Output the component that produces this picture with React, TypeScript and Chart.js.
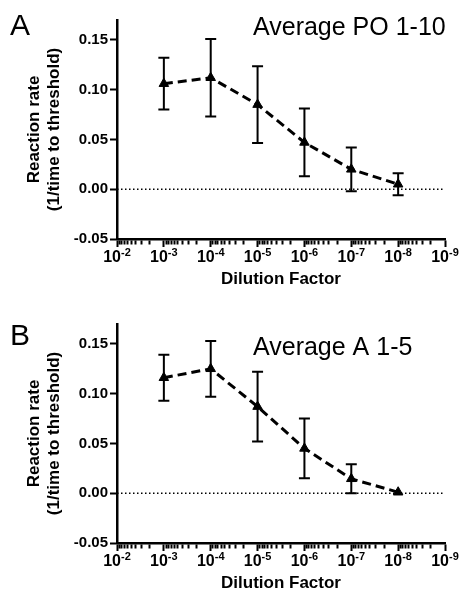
import { useEffect, useRef } from 'react';
import { Chart, registerables } from 'chart.js';

Chart.register(...registerables);

const FONT = 'Arial, "Liberation Sans", Helvetica, sans-serif';
Chart.defaults.font.family = FONT;

// Data
const dilutions = [1e-3, 1e-4, 1e-5, 1e-6, 1e-7, 1e-8];
const meanPO = [0.106, 0.112, 0.085, 0.047, 0.02, 0.005];
const errPO = [0.026, 0.039, 0.0385, 0.034, 0.022, 0.011];
const meanA = [0.116, 0.125, 0.087, 0.045, 0.0145, 0.001];
const errA = [0.023, 0.028, 0.035, 0.03, 0.0145, 0.001];

// Axis tick definitions
const xTickExponents = [-2, -3, -4, -5, -6, -7, -8, -9];
const minorMultipliers = [2, 3, 4, 5, 6, 7, 8, 9];
const yTicks = [-0.05, 0, 0.05, 0.1, 0.15];
const yMin = -0.05;
const yMax = 0.17;
const zeroLineX = [1e-2, 1e-9];

type PanelCfg = {
  letter: string;
  title: string;
  mean: number[];
  err: number[];
  letterY: number;
  titleY: number;
};

const panels: PanelCfg[] = [
  { letter: 'A', title: 'Average PO 1-10', mean: meanPO, err: errPO, letterY: 35, titleY: 35 },
  { letter: 'B', title: 'Average A 1-5', mean: meanA, err: errA, letterY: 41, titleY: 51 },
];

function buildXTicks() {
  const ticks: { value: number; major: boolean }[] = [];
  xTickExponents.forEach((e) => {
    ticks.push({ value: Math.pow(10, e), major: true });
    if (e > xTickExponents[xTickExponents.length - 1]) {
      minorMultipliers.forEach((m) => {
        ticks.push({ value: m * Math.pow(10, e - 1), major: false });
      });
    }
  });
  return ticks;
}

const W = 460;
const H = 292;

function Panel({ cfg, top }: { cfg: PanelCfg; top: number }) {
  const ref = useRef<HTMLCanvasElement>(null);

  useEffect(() => {
    const canvas = ref.current;
    if (!canvas) return;

    const decorPlugin = {
      id: 'decor',
      afterDatasetsDraw(chart: any) {
        const { ctx } = chart;
        const xs = chart.scales.x;
        const ys = chart.scales.y;
        ctx.save();
        ctx.strokeStyle = '#000';
        ctx.lineWidth = 2;
        ctx.setLineDash([]);
        dilutions.forEach((d, i) => {
          const e = cfg.err[i];
          if (e < 0.002) return;
          const px = xs.getPixelForValue(d);
          const pt = ys.getPixelForValue(cfg.mean[i] + e);
          const pb = ys.getPixelForValue(cfg.mean[i] - e);
          ctx.beginPath();
          ctx.moveTo(px, pt);
          ctx.lineTo(px, pb);
          ctx.moveTo(px - 5.5, pt);
          ctx.lineTo(px + 5.5, pt);
          ctx.moveTo(px - 5.5, pb);
          ctx.lineTo(px + 5.5, pb);
          ctx.stroke();
        });
        ctx.restore();
      },
      afterDraw(chart: any) {
        const { ctx } = chart;
        const xs = chart.scales.x;
        ctx.save();
        ctx.fillStyle = '#000';
        ctx.textBaseline = 'alphabetic';
        ctx.textAlign = 'left';
        // x tick labels with superscript exponents
        const baseY = xs.top + 23;
        xTickExponents.forEach((e) => {
          const px = xs.getPixelForValue(Math.pow(10, e));
          ctx.font = `bold 16px ${FONT}`;
          const wb = ctx.measureText('10').width;
          ctx.font = `bold 11px ${FONT}`;
          const expText = String(e);
          const we = ctx.measureText(expText).width;
          const start = px - (wb + we) / 2;
          ctx.font = `bold 16px ${FONT}`;
          ctx.fillText('10', start, baseY);
          ctx.font = `bold 11px ${FONT}`;
          ctx.fillText(expText, start + wb, baseY - 6);
        });
        // panel letter and title
        ctx.font = `30px ${FONT}`;
        ctx.fillText(cfg.letter, 10, cfg.letterY);
        ctx.font = `25px ${FONT}`;
        ctx.fillText(cfg.title, 253, cfg.titleY);
        ctx.restore();
      },
    };

    const chart = new Chart(canvas, {
      type: 'line',
      data: {
        datasets: [
          {
            label: cfg.title,
            data: dilutions.map((d, i) => ({ x: d, y: cfg.mean[i] })),
            borderColor: '#000',
            backgroundColor: '#000',
            borderWidth: 3,
            borderDash: [9, 5],
            pointStyle: 'triangle',
            pointRadius: 5.5,
            pointBorderWidth: 1,
            pointBackgroundColor: '#000',
            pointBorderColor: '#000',
            tension: 0,
          },
          {
            label: 'zero',
            data: zeroLineX.map((x) => ({ x, y: 0 })),
            borderColor: '#000',
            borderWidth: 1.5,
            borderDash: [1.5, 2.5],
            pointRadius: 0,
            tension: 0,
          },
        ],
      },
      options: {
        animation: false,
        responsive: false,
        layout: { padding: { top: 20, right: 15, left: 0, bottom: 0 } },
        plugins: {
          legend: { display: false },
          tooltip: { enabled: false },
        },
        scales: {
          x: {
            type: 'logarithmic',
            reverse: true,
            min: 1e-9,
            max: 1e-2,
            afterBuildTicks: (s: any) => {
              s.ticks = buildXTicks();
            },
            afterFit: (s: any) => {
              s.height = H - 239;
            },
            ticks: { display: false },
            grid: {
              display: true,
              drawOnChartArea: false,
              drawTicks: true,
              tickLength: 8,
              tickWidth: 2,
              tickColor: '#000',
              tickBorderDash: (ctx: any) => (ctx.tick && ctx.tick.major ? [] : [4, 20]),
            },
            border: { display: true, color: '#000', width: 2.5 },
            title: {
              display: true,
              text: 'Dilution Factor',
              color: '#000',
              font: { size: 17, weight: 'bold' },
              padding: { top: 0, bottom: 2 },
            },
          },
          y: {
            type: 'linear',
            min: yMin,
            max: yMax,
            afterBuildTicks: (s: any) => {
              s.ticks = yTicks.map((v) => ({ value: v }));
            },
            afterFit: (s: any) => {
              s.width = 117;
            },
            ticks: {
              color: '#000',
              font: { size: 15, weight: 'bold' },
              padding: 2,
              callback: (v: any) => Number(v).toFixed(2),
            },
            grid: {
              drawOnChartArea: false,
              drawTicks: true,
              tickLength: 7,
              tickWidth: 2,
              tickColor: '#000',
            },
            border: { display: true, color: '#000', width: 2.5 },
            title: {
              display: true,
              text: ['Reaction rate', '(1/time to threshold)'],
              color: '#000',
              font: { size: 17, weight: 'bold' },
              padding: { top: 24, bottom: 0 },
            },
          },
        },
      } as any,
      plugins: [decorPlugin],
    });

    return () => chart.destroy();
  }, [cfg]);

  return (
    <div style={{ position: 'absolute', left: 0, top, width: W, height: H }}>
      <canvas ref={ref} width={W} height={H} style={{ width: W, height: H, display: 'block' }} />
    </div>
  );
}

export default function App() {
  return (
    <div style={{ position: 'absolute', left: 0, top: 0, width: 460, height: 596, background: '#fff' }}>
      <Panel cfg={panels[0]} top={0} />
      <Panel cfg={panels[1]} top={304} />
    </div>
  );
}
